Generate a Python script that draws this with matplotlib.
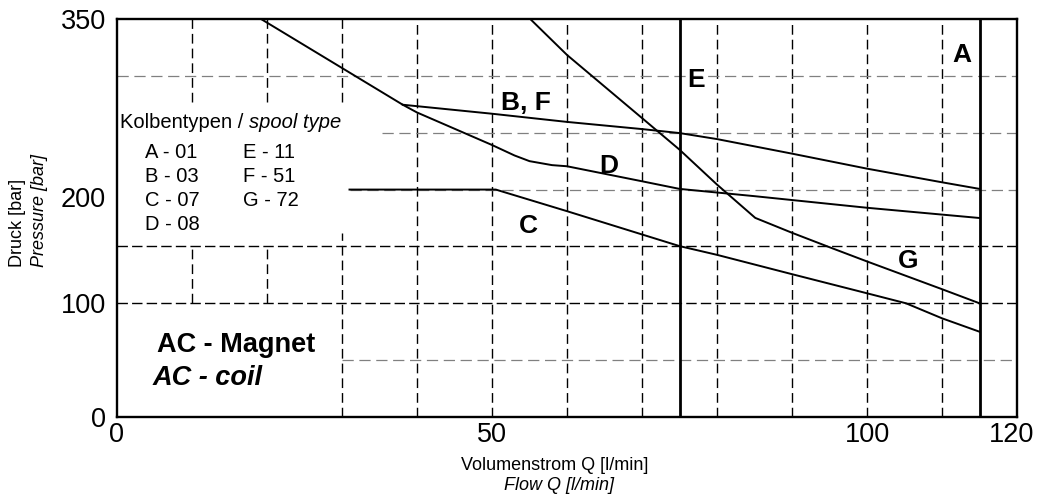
import matplotlib
matplotlib.use("Agg")
import matplotlib.pyplot as plt
import matplotlib.transforms as mtransforms

plt.rcParams['font.family'] = ['Liberation Sans', 'DejaVu Sans']

# ---- data -------------------------------------------------------------
x_ticks = [0, 50, 100, 120]
y_ticks = [0, 100, 200, 350]

bf_x = [19.2, 38.1, 50, 60, 70, 75, 80, 90, 100, 110, 115]
bf_y = [350, 274.6, 266.7, 259.5, 253.2, 249.7, 244.4, 231.6, 218.4, 206.4, 200.6]

d_x = [38.1, 40, 50, 53, 55, 58, 60, 70, 75, 85, 100, 110, 115]
d_y = [274.6, 267.8, 239.2, 230, 225, 221.5, 220.5, 207.3, 200.6, 194.2, 184, 178, 175]

c_x = [31, 50.5, 60, 75, 80, 90, 100, 105.2, 110, 115]
c_y = [200, 200, 181, 150.3, 142.6, 125.6, 108.8, 100, 86.8, 75]

g_x = [55.1, 60, 70, 75, 80, 85.1, 90, 95.2, 100, 110, 115]
g_y = [350, 318.4, 262.9, 235.1, 204.4, 175.1, 162, 148.8, 136.8, 112.4, 100]

e_flow = 75
a_flow = 115

curve_labels = ["B, F", "E", "A", "D", "C", "G"]
curve_label_x = [51.2, 76.0, 111.4, 64.3, 53.6, 104.1]
curve_label_y = [270, 290, 312.5, 214.3, 161.5, 130.8]

spool_left = ["A - 01", "B - 03", "C - 07", "D - 08"]
spool_right = ["E - 11", "F - 51", "G - 72"]

# grid structure
v_full = [40, 50, 60, 70, 80, 90, 100, 110]
v_part_x = [10, 10, 20, 20, 30, 30]
v_part_lo = [277, 100, 277, 100, 277, 0]
v_part_hi = [350, 150, 350, 150, 350, 162]
h_black = [150, 100]
h_grey = [300, 250, 200, 50]
h_grey_start = [0, 35.3, 31, 30]

# ---- figure -----------------------------------------------------------
fig = plt.figure(figsize=(10.37, 4.95), dpi=100)
ax = fig.add_axes([117/1037, 78/495, 900/1037, 398/495])
ax.set_xlim(0, 120)
ax.set_ylim(0, 350)

dash_v = (7, 3.6)
dash_hb = (7.5, 3)
dash_hg = (9, 4.5)

for xv in v_full:
    ax.plot([xv, xv], [0, 350], color='black', lw=1.0, dashes=dash_v, zorder=1)
for xv, lo, hi in zip(v_part_x, v_part_lo, v_part_hi):
    ax.plot([xv, xv], [lo, hi], color='black', lw=1.0, dashes=dash_v, zorder=1)
for yv in h_black:
    ax.plot([0, 120], [yv, yv], color='black', lw=1.0, dashes=dash_hb, zorder=1)
for yv, xs in zip(h_grey, h_grey_start):
    ax.plot([xs, 120], [yv, yv], color='#808080', lw=0.9, dashes=dash_hg, zorder=1)

lw_c = 1.4
for xs, ys in [(bf_x, bf_y), (d_x, d_y), (c_x, c_y), (g_x, g_y)]:
    ax.plot(xs, ys, color='black', lw=lw_c, solid_joinstyle='miter', zorder=3)

ax.axvline(e_flow, color='black', lw=2.0, zorder=4)
ax.axvline(a_flow, color='black', lw=2.0, zorder=4)

for lab, lx, ly in zip(curve_labels, curve_label_x, curve_label_y):
    ax.text(lx, ly, lab, fontsize=19, fontweight='bold', ha='left', va='baseline', zorder=5)

# spool legend
t = ax.text(0.4, 253.9, "Kolbentypen / ", fontsize=14.5, ha='left', va='baseline')
fig.canvas.draw()
bb = t.get_window_extent()
x_end = ax.transData.inverted().transform((bb.x1, bb.y0))[0]
ax.text(x_end, 253.9, "spool type", fontsize=14.5, style='italic', ha='left', va='baseline')

base = [227.5, 206.4, 185.3, 164.2]
for s, by in zip(spool_left, base):
    ax.text(3.7, by, s, fontsize=14.5, ha='left', va='baseline')
for s, by in zip(spool_right, base):
    ax.text(16.8, by, s, fontsize=14.5, ha='left', va='baseline')

ax.text(5.3, 57.4, "AC - Magnet", fontsize=19.5, fontweight='bold', ha='left', va='baseline')
ax.text(4.8, 28.0, "AC - coil", fontsize=19.5, fontweight='bold', style='italic',
        ha='left', va='baseline')

# axes styling
ax.set_xticks(x_ticks)
ax.set_yticks(y_ticks)
ax.set_xticklabels([str(v) for v in x_ticks])
ax.set_yticklabels([str(v) for v in y_ticks])
ax.tick_params(axis='both', length=0, labelsize=19.5)
ax.tick_params(axis='x', pad=3.5)
ax.tick_params(axis='y', pad=8)
for sp in ax.spines.values():
    sp.set_linewidth(1.7)

# small label offsets as in the reference
lab120 = ax.get_xticklabels()[-1]
lab120.set_transform(lab120.get_transform() +
                     mtransforms.ScaledTranslation(-5/100, 0, fig.dpi_scale_trans))
lab200 = ax.get_yticklabels()[2]
lab200.set_transform(lab200.get_transform() +
                     mtransforms.ScaledTranslation(0, -7/100, fig.dpi_scale_trans))

fig.text(555/1037, (495-465)/495, "Volumenstrom Q [l/min]", fontsize=13, ha='center', va='center')
fig.text(559/1037, (495-486)/495, "Flow Q [l/min]", fontsize=13, style='italic', ha='center', va='center')

fig.text(17.5/1037, (495-267)/495, "Druck [bar]", fontsize=13, rotation=90, ha='center', va='bottom')
fig.text(40/1037, (495-267)/495, "Pressure [bar]", fontsize=13, style='italic', rotation=90,
         ha='center', va='bottom')

fig.savefig("out.png", dpi=100)
